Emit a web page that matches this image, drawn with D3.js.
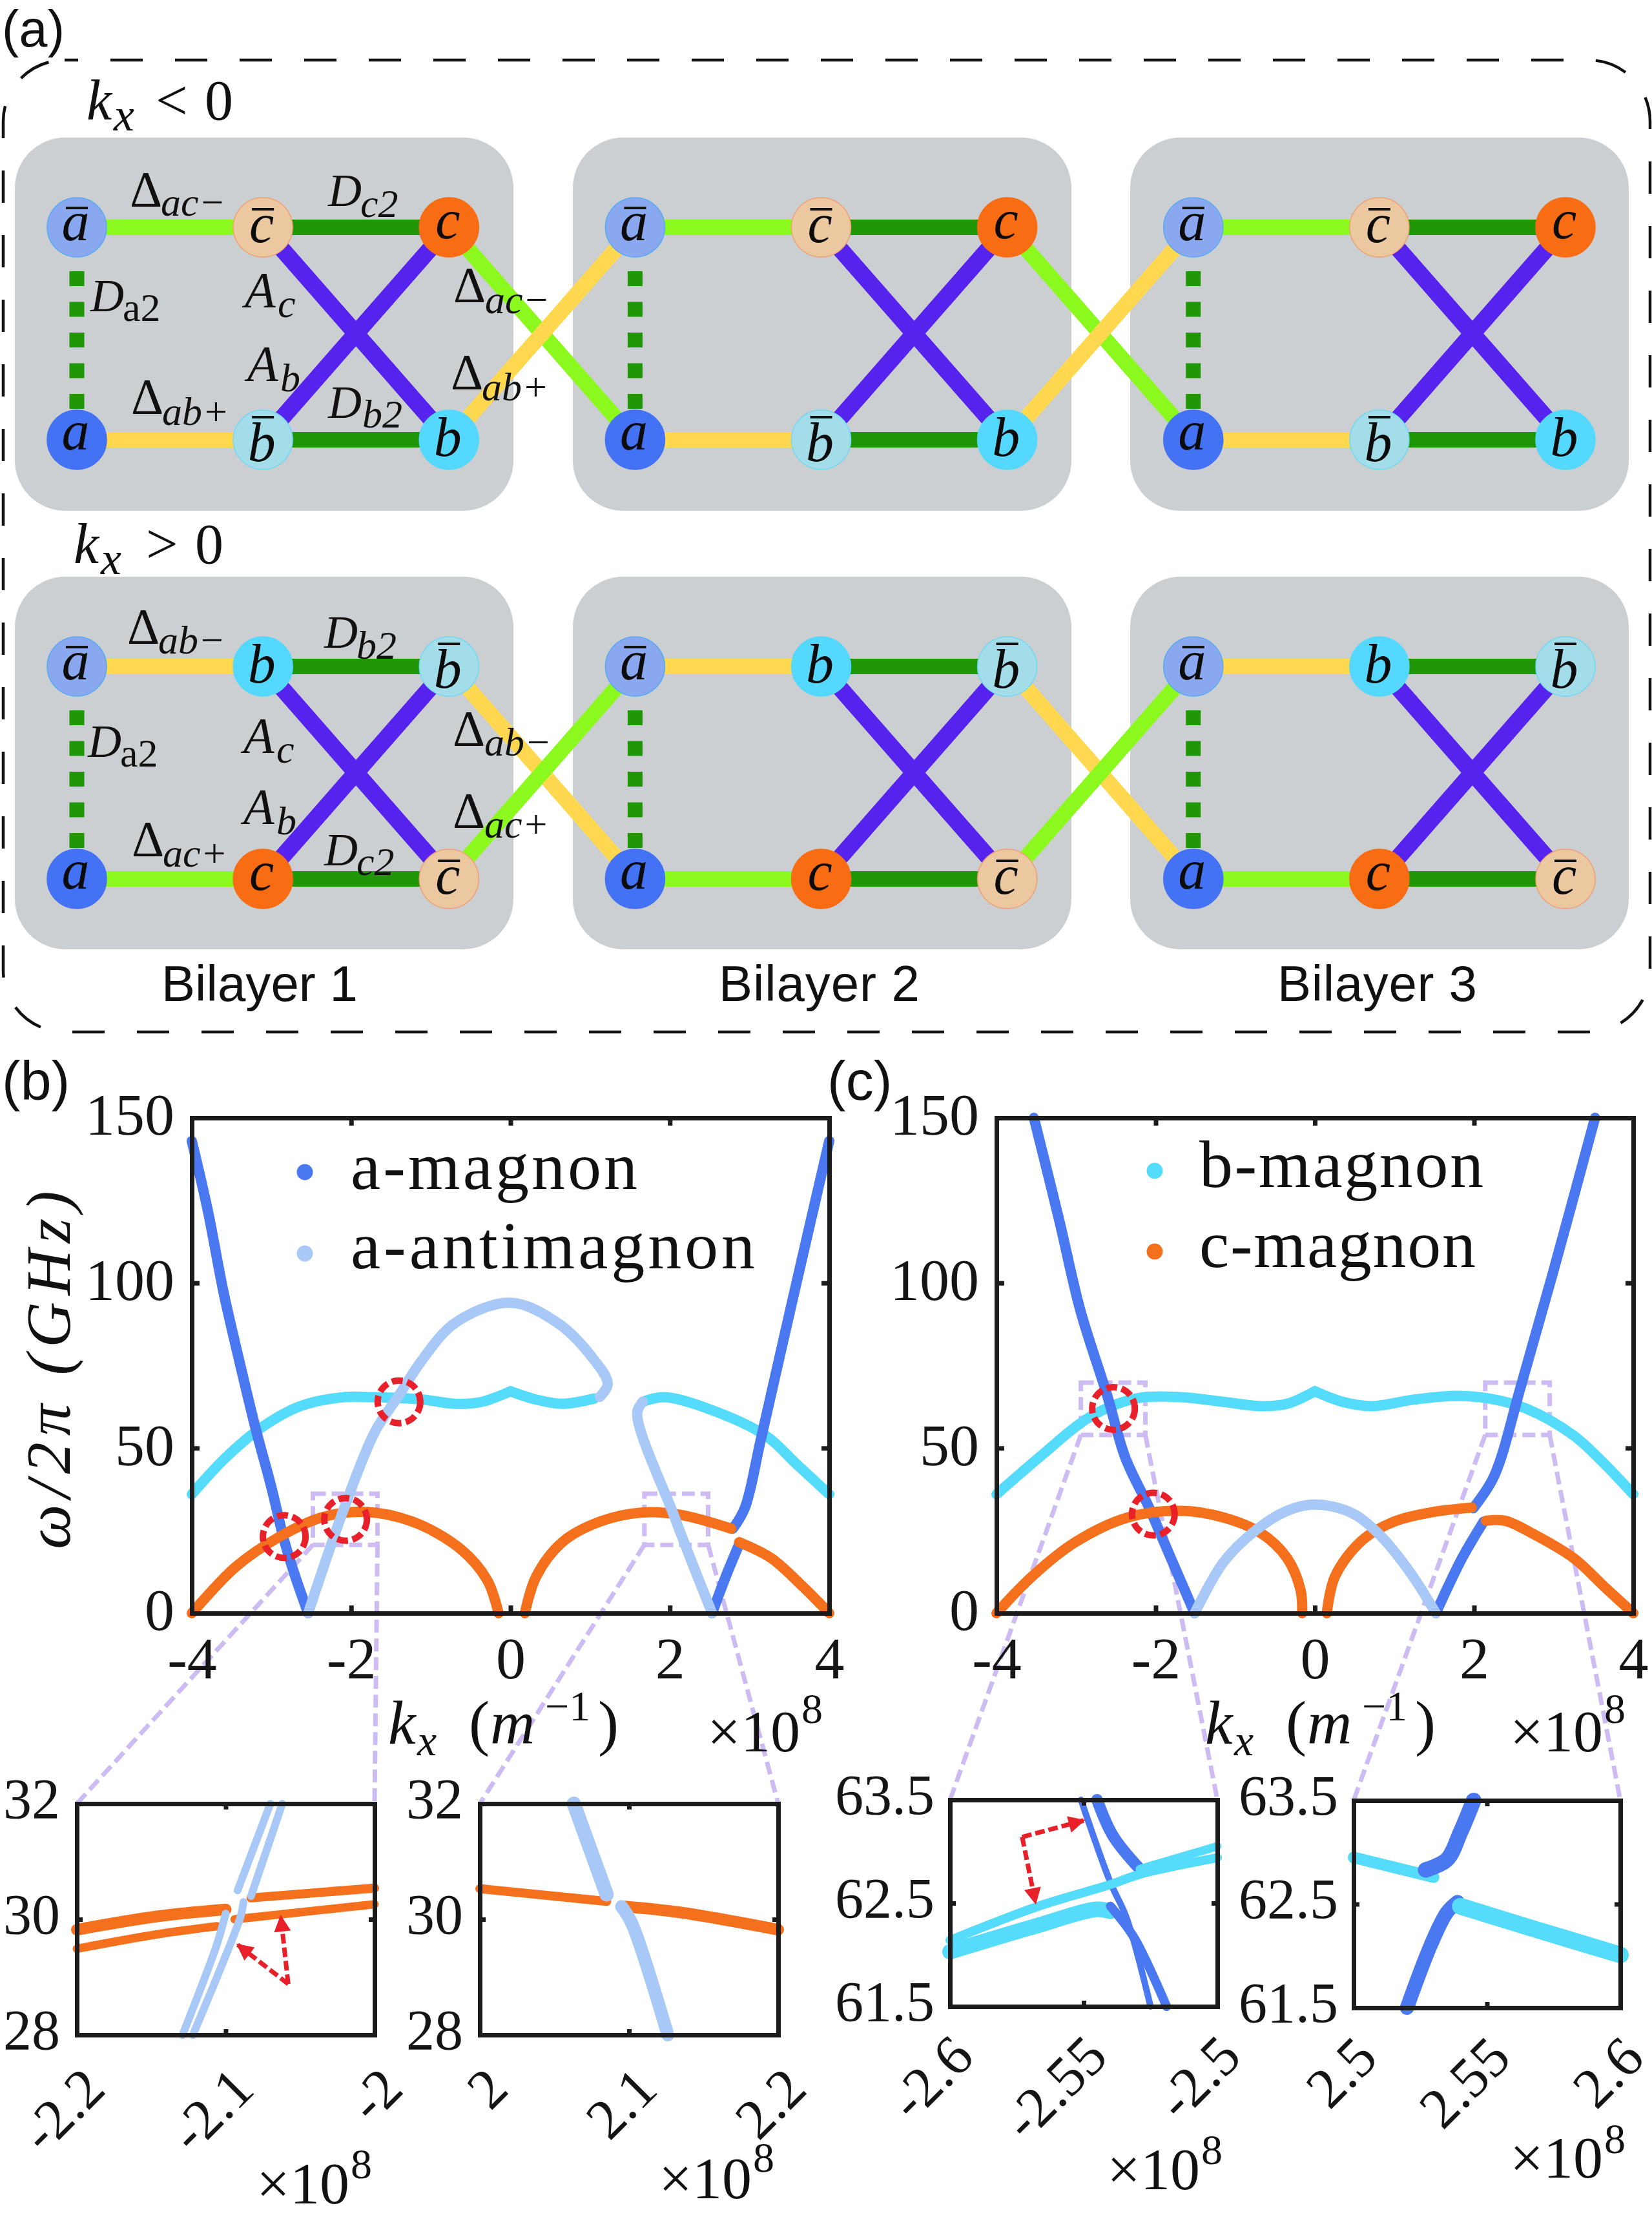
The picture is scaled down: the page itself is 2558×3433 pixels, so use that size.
<!DOCTYPE html>
<html><head><meta charset="utf-8">
<script src="https://cdn.jsdelivr.net/npm/d3@7"></script>
<style>html,body{margin:0;padding:0;background:#fff}svg{display:block}</style>
</head><body><svg id="fig" width="2558" height="3433"></svg>
<script>
// ---------- data: panel (b) [k (1e8 1/m), omega (GHz)] ----------
const bDarkLeft=[[-4,143],[-3.8,122],[-3.6,97],[-3.4,76],[-3.2,56],[-3,38],[-2.84,22],[-2.7,11],[-2.54,0]];
const bDarkRightLow=[[2.53,0],[2.7,11],[2.87,20.9]];
const bDarkRightUp=[[2.79,25.6],[2.94,31.8],[3.14,52.4],[3.54,94.9],[4,143]];
const bLightLoop=[[-2.54,0],[-2.07,33],[-1.7,55],[-1.4,66],[-1.1,77],[-0.69,88],[0,94],[0.585,88],[0.99,78.5],[1.22,69.5],[1.12,65.5]];
const bLightRight=[[1.66,64],[1.59,60.6],[2.06,29],[2.53,0]];
const bCyanLeft=[[-4,36],[-3.58,47],[-3.11,56.5],[-2.64,62.7],[-2.1,65.4],[-1.7,65.4],[-1.1,64.7],[-0.69,63.4],[-0.36,64],[0,67.2]];
const bCyanMid=[[0,67.2],[0.32,64.7],[0.65,63.4],[1.05,65]];
const bCyanRight=[[1.66,64],[1.93,65.4],[2.47,62],[3.2,53.8],[3.6,44.9],[4,36]];
const bOrangeLeft=[[-4,0],[-3.45,14],[-2.91,23],[-2.37,29],[-1.84,30.7],[-1.23,27.7],[-0.63,19.5],[-0.29,9.9],[-0.15,0]];
const bOrangeMid=[[0.18,0],[0.32,11],[0.65,21.5],[1.12,27.7],[1.66,30.5],[2.13,29.8],[2.77,25.6]];
const bOrangeRight=[[2.87,21.5],[3.27,16.7],[3.68,7.8],[4,0]];
// ---------- data: panel (c) ----------
const cDarkLeft=[[-3.53,150],[-3.21,118.8],[-2.95,92],[-2.61,66],[-2.38,47],[-2.08,31.8],[-1.81,16.7],[-1.51,0]];
const cDarkRightLow=[[1.52,0],[1.85,16.7],[2.12,27.7]];
const cDarkRightUp=[[1.99,31.8],[2.25,41.4],[2.59,68.9],[2.99,103],[3.52,150]];
const cLight=[[-1.51,0],[-1.15,15.4],[-0.75,25],[-0.35,31],[0,32.9],[0.45,30.5],[0.79,24.3],[1.19,12.6],[1.52,0]];
const cCyanLeft=[[-4,36],[-3.41,48.3],[-2.88,58.6],[-2.48,63.4],[-2.15,65.4],[-1.68,65.4],[-1.15,64],[-0.68,62.7],[-0.35,63.4],[0,67.2]];
const cCyanRight=[[0,67.2],[0.35,64],[0.72,62.7],[1.25,64.7],[1.79,65.8],[2.19,65],[2.65,62],[3.25,53.8],[3.65,44.9],[4,36]];
const cOrangeLeft=[[-4,0],[-3.55,11.2],[-3.01,21.5],[-2.35,29],[-1.68,31],[-1.15,29],[-0.68,24.3],[-0.35,16.7],[-0.18,7],[-0.16,0]];
const cOrangeMid=[[0.15,0],[0.25,11],[0.59,22],[0.99,27.7],[1.45,30.5],[1.97,32]];
const cOrangeRight=[[2.15,28],[2.39,28],[2.72,24.3],[3.25,16.7],[3.65,7.7],[4,0]];
// ---------- data: insets ----------
const i1OrangeUL=[[-2.2,29.82],[-2.146,30.05],[-2.1,30.17]];
const i1OrangeLL=[[-2.2,29.49],[-2.146,29.74],[-2.106,29.88]];
const i1OrangeUR=[[-2.083,30.37],[-2,30.54]];
const i1OrangeLR=[[-2.094,30],[-2,30.26]];
const i1LightA=[[-2.129,28],[-2.106,29.56],[-2.1,30.1]];
const i1LightB=[[-2.122,28],[-2.098,29.5],[-2.09,30.05],[-2.088,30.3]];
const i1LightC=[[-2.07,32],[-2.092,30.5]];
const i1LightD=[[-2.062,32],[-2.083,30.4]];
const i2OrangeL=[[2,30.53],[2.085,30.31]];
const i2OrangeR=[[2.097,30.22],[2.134,30.12],[2.2,29.82]];
const i2LightU=[[2.063,32],[2.085,30.43]];
const i2LightL=[[2.095,30.22],[2.102,29.92],[2.126,28]];
const i3CyanTop=[[-2.6,62.14],[-2.567,62.47],[-2.54,62.68],[-2.529,62.78],[-2.5,62.94]];
const i3CyanBranch=[[-2.529,62.83],[-2.5,63.05]];
const i3CyanLow=[[-2.6,62.03],[-2.569,62.27],[-2.545,62.44],[-2.54,62.42]];
const i3DarkThin=[[-2.551,63.5],[-2.54,62.7],[-2.534,62.36],[-2.525,61.5]];
const i3DarkUp=[[-2.545,63.5],[-2.539,63.15],[-2.529,62.83]];
const i3DarkLow=[[-2.54,62.47],[-2.531,62.16],[-2.519,61.5]];
const i4CyanUp=[[2.5,62.95],[2.519,62.83],[2.53,62.76]];
const i4DarkUp=[[2.527,62.83],[2.535,62.93],[2.54,63.19],[2.545,63.5]];
const i4DarkLow=[[2.52,61.5],[2.529,62.11],[2.535,62.42],[2.539,62.52]];
const i4CyanLow=[[2.54,62.48],[2.569,62.25],[2.6,62.01]];
// ---------- ticks, legend, annotations ----------
const mainKTicks=[-4,-2,0,2,4];
const mainWTicks=[0,50,100,150];
const bLegend=["a-magnon","a-antimagnon"];
const cLegend=["b-magnon","c-magnon"];
const bilayerNames=["Bilayer 1","Bilayer 2","Bilayer 3"];
const bRings=[[-2.84,23.2],[-2.07,28.4],[-1.4,64]];
const cRings=[[-2.53,62],[-2.03,30]];
const topNodes=["abar","cbar","c","a","bbar","b"];
const bottomNodes=["abar","b","bbar","a","c","cbar"];

const C={dark:"#4a78f0",light:"#a8c8f7",cyan:"#55dbfb",orange:"#f4701c",axis:"#1c1c1c",
  lime:"#8cf91e",green:"#1f9706",yellow:"#ffd84f",violet:"#5522ee",gray:"#cbcfd1",
  purple:"#cdbcf4",red:"#e8202a"};
const nodeFill={abar:"#8aa8f0",cbar:"#ecc8a0",c:"#f86c14",a:"#4472f5",bbar:"#a2dde9",b:"#55d8fd"};
const nodeEdge={abar:"#55aaf5",cbar:"#f0a070",c:"#f86c14",a:"#4472f5",bbar:"#70d8f5",b:"#55d8fd"};
const baseOff={abar:20,cbar:23,bbar:33,a:15,c:17,b:25};
const barOff={abar:30,cbar:28,bbar:35};
const SERIF="'Liberation Serif',serif", SANS="'Liberation Sans',sans-serif";
const svg=d3.select("#fig");
const defs=svg.append("defs");
defs.append("marker").attr("id","ah").attr("viewBox","0 0 10 10").attr("refX",9).attr("refY",5)
  .attr("markerUnits","userSpaceOnUse").attr("markerWidth",28).attr("markerHeight",26).attr("orient","auto")
  .append("path").attr("d","M0,0L10,5L0,10Z").attr("fill",C.red);

function T(g,x,y,s,o={}){
  const t=g.append("text").attr("x",x).attr("y",y).text(s)
    .attr("font-family",o.f||SERIF).attr("font-size",o.s||80).attr("fill",o.c||"#111");
  if(o.i)t.attr("font-style","italic");
  if(o.a)t.attr("text-anchor",o.a);
  if(o.w)t.attr("textLength",o.w).attr("lengthAdjust","spacing");
  return t;
}
// ================= panel (a) =================
const A=svg.append("g");
A.append("rect").attr("x",5).attr("y",93).attr("width",2550).attr("height",1505).attr("rx",95)
  .attr("fill","none").attr("stroke","#111").attr("stroke-width",4.5).attr("stroke-dasharray","50 50").attr("stroke-dashoffset",29);
T(A,3,72,"(a)",{f:SANS,s:79,w:97});
const colX=d3.scaleLinear().domain([0,8]).range([119,2424]);
const rowY=d3.scaleOrdinal().domain([0,1,2,3]).range([352,681,1032,1361]);
const boxX=d3.scaleOrdinal().domain([0,1,2]).range([23,887,1750]);
const boxW=772,boxRows=[[213,578],[893,577]];
boxRows.forEach(([y,h])=>{bilayerNames.forEach((_,i)=>{
  A.append("rect").attr("x",boxX(i)).attr("y",y).attr("width",boxW).attr("height",h).attr("rx",78).attr("fill",C.gray);
});});
function line(g,c1,r1,c2,r2,col,w,dash){
  const l=g.append("line").attr("x1",colX(c1)).attr("y1",rowY(r1)).attr("x2",colX(c2)).attr("y2",rowY(r2))
   .attr("stroke",col).attr("stroke-width",w);
  if(dash)l.attr("stroke-dasharray",dash);
}
function drawRow(top,names,hTop,hBot,crossFirst,crossSecond){
  bilayerNames.forEach((_,b)=>{
    const o=b*3;
    line(A,o,top,o+1,top,hTop,24);
    line(A,o,top+1,o+1,top+1,hBot,24);
    line(A,o+1,top,o+2,top,C.green,24);
    line(A,o+1,top+1,o+2,top+1,C.green,24);
    line(A,o+1,top,o+2,top+1,C.violet,26);
    line(A,o+2,top,o+1,top+1,C.violet,26);
    A.append("line").attr("x1",colX(o)).attr("x2",colX(o)).attr("y1",rowY(top)+68).attr("y2",rowY(top+1)-36)
      .attr("stroke",C.green).attr("stroke-width",23).attr("stroke-dasharray","23 24.5");
    if(b<2){
      line(A,o+2,top,o+3,top+1,crossFirst,24);
      line(A,o+2,top+1,o+3,top,crossSecond,24);
    }
  });
  bilayerNames.forEach((_,b)=>{
    const o=b*3;
    names.forEach((n,i)=>{
      const cx=colX(o+(i%3)),cy=rowY(top+(i>2?1:0));
      A.append("circle").attr("cx",cx).attr("cy",cy).attr("r",46).attr("fill",nodeFill[n]).attr("stroke",nodeEdge[n]).attr("stroke-width",1.5);
      const bar=n.endsWith("bar"),ch=n[0];
      T(A,cx-2,cy+baseOff[n],ch,{s:86,i:1,a:"middle",c:"#0c0c0c"});
      if(bar)A.append("line").attr("x1",cx-17).attr("x2",cx+17).attr("y1",cy-barOff[n]).attr("y2",cy-barOff[n]).attr("stroke","#111").attr("stroke-width",4);
    });
  });
}
drawRow(0,topNodes,C.lime,C.yellow,C.lime,C.yellow);
drawRow(2,bottomNodes,C.yellow,C.lime,C.yellow,C.lime);
function sym(x,y,big,sx,sy,sub,o={}){
  const isDelta=big==="\u0394";
  T(A,x,y,big,{s:big==="D"?72:78,i:!isDelta});
  T(A,sx,sy,sub,{s:62,i:o.u?0:1});
}
sym(201,319,"\u0394",249,334,"ac\u2212");
sym(508,319,"D",558,336,"c2");
sym(140,482,"D",190,497,"a2",{u:1});
sym(379,475,"A",430,491,"c");
sym(383,589,"A",434,606,"b");
sym(203,640,"\u0394",251,658,"ab+");
sym(508,647,"D",561,662,"b2");
sym(702,467,"\u0394",751,485,"ac\u2212");
sym(698,602,"\u0394",746,620,"ab+");
sym(197,996,"\u0394",245,1012,"ab\u2212");
sym(502,1003,"D",552,1020,"b2");
sym(136,1172,"D",186,1187,"a2",{u:1});
sym(377,1165,"A",428,1181,"c");
sym(377,1275,"A",428,1292,"b");
sym(204,1325,"\u0394",252,1342,"ac+");
sym(502,1340,"D",552,1355,"c2");
sym(701,1154,"\u0394",750,1170,"ab\u2212");
sym(701,1281,"\u0394",750,1297,"ac+");
T(A,134,185,"k",{s:88,i:1});T(A,176,202,"x",{s:72,i:1});T(A,241,185,"< 0",{s:88,w:120});
T(A,114,872,"k",{s:88,i:1});T(A,156,889,"x",{s:72,i:1});T(A,226,872,"> 0",{s:88,w:120});
[[250,304],[1113,311],[1978,309]].forEach((p,i)=>T(A,p[0],1550,bilayerNames[i],{f:SANS,s:78,w:p[1]}));

// ================= plots =================
function frame(g,box,xd,yd,xt,yt,opt){
  const x=d3.scaleLinear().domain(xd).range([box.l,box.r]);
  const y=d3.scaleLinear().domain(yd).range([box.b,box.t]);
  return {g,box,x,y,xt,yt,opt};
}
function axes(P){
  const {g,box,x,y,xt,yt,opt}=P;
  const tk=opt.tick;
  const mk=(gen,tr)=>g.append("g").attr("transform",tr).call(gen);
  const fmt=d=>String(d);
  const sel=[
   mk(d3.axisBottom(x).tickValues(xt).tickSizeInner(-tk).tickSizeOuter(0).tickFormat(fmt),`translate(0,${box.b})`),
   mk(d3.axisLeft(y).tickValues(yt).tickSizeInner(-tk).tickSizeOuter(0).tickFormat(fmt),`translate(${box.l},0)`),
   mk(d3.axisTop(x).tickValues(xt).tickSizeInner(-tk).tickSizeOuter(0).tickFormat(""),`translate(0,${box.t})`),
   mk(d3.axisRight(y).tickValues(yt).tickSizeInner(-tk).tickSizeOuter(0).tickFormat(""),`translate(${box.r},0)`)
  ];
  sel.forEach(s=>{
    s.attr("font-family",null).attr("font-size",null);
    s.select(".domain").attr("stroke",C.axis).attr("stroke-width",opt.sw).attr("stroke-linecap","square");
    s.selectAll(".tick line").attr("stroke",C.axis).attr("stroke-width",opt.sw);
  });
  sel[1].selectAll("text").attr("font-family",SERIF).attr("font-size",opt.fs).attr("fill","#151515")
    .attr("x",-opt.ylab).attr("dy",opt.ydy);
  sel[0].selectAll("text").attr("font-family",SERIF).attr("font-size",opt.fs).attr("fill","#151515");
  if(opt.rot){
    sel[0].selectAll("text").attr("y",0).attr("dy",0).attr("text-anchor","end")
      .attr("transform",`translate(${opt.rotx},${opt.rot}) rotate(-45)`);
  }else{
    sel[0].selectAll("text").attr("y",opt.xlab).attr("dy",0);
  }
}
function curve(P,data,col,w){
  const gen=d3.line().x(d=>P.x(d[0])).y(d=>P.y(d[1])).curve(d3.curveCatmullRom.alpha(0.5));
  P.g.append("path").attr("d",gen(data)).attr("fill","none").attr("stroke",col).attr("stroke-width",w)
    .attr("stroke-linecap","round").attr("stroke-linejoin","round");
}
function rings(P,list){
  list.forEach(d=>P.g.append("circle").attr("cx",P.x(d[0])).attr("cy",P.y(d[1])).attr("r",33)
    .attr("fill","none").attr("stroke",C.red).attr("stroke-width",10).attr("stroke-dasharray","17 7"));
}
function zoomBox(P,k0,k1,w0,w1,inset){
  const g=P.g,x0=P.x(k0),x1=P.x(k1),y0=P.y(w1),y1=P.y(w0);
  const st=s=>s.attr("fill","none").attr("stroke",C.purple).attr("stroke-width",7).attr("stroke-dasharray","20 9");
  st(g.append("rect").attr("x",x0).attr("y",y0).attr("width",x1-x0).attr("height",y1-y0));
  st(g.append("line").attr("x1",x0).attr("y1",y1).attr("x2",inset.box.l).attr("y2",inset.box.t));
  st(g.append("line").attr("x1",x1).attr("y1",y1).attr("x2",inset.box.r).attr("y2",inset.box.t));
}
function arrows(P,o,targets){
  targets.forEach(t=>P.g.append("line").attr("x1",P.x(o[0])).attr("y1",P.y(o[1])).attr("x2",P.x(t[0])).attr("y2",P.y(t[1]))
    .attr("stroke",C.red).attr("stroke-width",7).attr("stroke-dasharray","15 6").attr("marker-end","url(#ah)"));
}
function legend(g,names,cols,dotX,ys,textX,bases,widths){
  names.forEach((n,i)=>{
    g.append("circle").attr("cx",dotX).attr("cy",ys[i]).attr("r",12.5).attr("fill",cols[i]);
    T(g,textX,bases[i],n,{s:104,w:widths[i],c:"#111"});
  });
}
function xlabel(g,x){
  T(g,x,2700,"k",{s:96,i:1});T(g,x+45,2718,"x",{s:68,i:1});
  T(g,x+125,2700,"(",{s:96});T(g,x+158,2700,"m",{s:96,i:1});T(g,x+243,2664,"\u22121",{s:66});T(g,x+325,2700,")",{s:96});
}
const times=(g,x,y,sy)=>{T(g,x,y,"\u00d710",{s:92});T(g,x+146,sy,"8",{s:66});};
const mainOpt={tick:12,sw:7,fs:92,ylab:27,ydy:"0.28em",xlab:101};
const L=svg.append("g"),R=svg.append("g");
const pB=frame(L,{l:297,r:1284,t:1731,b:2498},[-4,4],[0,150],mainKTicks,mainWTicks,mainOpt);
const pC=frame(R,{l:1543,r:2529,t:1731,b:2498},[-4,4],[0,150],mainKTicks,mainWTicks,mainOpt);
const inOpt={tick:9,sw:7,fs:88,ylab:26,ydy:"0.24em",rot:88,rotx:47};
const inOpt2={tick:9,sw:7,fs:88,ylab:24,ydy:"0.24em",rot:82,rotx:40};
const i1=frame(L,{l:119,r:580,t:2793,b:3151},[-2.2,-2],[28,32],[-2.2,-2.1,-2],[28,30,32],inOpt);
const i2=frame(L,{l:743,r:1205,t:2793,b:3151},[2,2.2],[28,32],[2,2.1,2.2],[28,30,32],inOpt);
const i3=frame(R,{l:1471,r:1885,t:2787,b:3107},[-2.6,-2.5],[61.5,63.5],[-2.6,-2.55,-2.5],[61.5,62.5,63.5],inOpt2);
const i4=frame(R,{l:2096,r:2509,t:2788,b:3109},[2.5,2.6],[61.5,63.5],[2.5,2.55,2.6],[61.5,62.5,63.5],inOpt2);

T(L,3,1703,"(b)",{f:SANS,s:86});T(R,1281,1703,"(c)",{f:SANS,s:86});
zoomBox(pB,-2.48,-1.67,20.7,36.2,i1);
zoomBox(pB,1.68,2.48,20.7,36.2,i2);
zoomBox(pC,-2.94,-2.13,54,69.8,i3);
zoomBox(pC,2.14,2.95,54,69.8,i4);

const W=16;
[bCyanLeft,bCyanMid,bCyanRight].forEach(d=>curve(pB,d,C.cyan,W));
[bDarkLeft,bDarkRightLow,bDarkRightUp].forEach(d=>curve(pB,d,C.dark,W));
[bOrangeLeft,bOrangeMid,bOrangeRight].forEach(d=>curve(pB,d,C.orange,W));
[bLightLoop,bLightRight].forEach(d=>curve(pB,d,C.light,W));
[cCyanLeft,cCyanRight].forEach(d=>curve(pC,d,C.cyan,W));
[cDarkLeft,cDarkRightLow,cDarkRightUp].forEach(d=>curve(pC,d,C.dark,W));
[cOrangeLeft,cOrangeMid,cOrangeRight].forEach(d=>curve(pC,d,C.orange,W));
curve(pC,cLight,C.light,W);
axes(pB);axes(pC);
rings(pB,bRings);rings(pC,cRings);
legend(L,bLegend,[C.dark,C.light],472,[1815,1941],543,[1841,1964],[444,626]);
legend(R,cLegend,[C.cyan,C.orange],1788,[1813,1938],1857,[1838,1962],[440,428]);
T(L,108,2399,"\u03c9/2\u03c0 (GHz)",{s:98,i:1,w:555}).attr("transform","rotate(-90 108 2399)");
xlabel(L,601);xlabel(R,1866);
times(L,1095,2712,2668);times(R,2338,2712,2668);
// insets
curve(i1,i1OrangeUL,C.orange,18);curve(i1,i1OrangeLL,C.orange,13);curve(i1,i1OrangeUR,C.orange,14);curve(i1,i1OrangeLR,C.orange,13);
[i1LightA,i1LightB,i1LightC,i1LightD].forEach(d=>curve(i1,d,C.light,12));
curve(i2,i2OrangeL,C.orange,14);curve(i2,i2OrangeR,C.orange,18);
curve(i2,i2LightU,C.light,22);curve(i2,i2LightL,C.light,20);
curve(i3,i3CyanLow,C.cyan,24);curve(i3,i3DarkThin,C.dark,10);curve(i3,i3DarkUp,C.dark,18);curve(i3,i3DarkLow,C.dark,14);
curve(i3,i3CyanTop,C.cyan,14);curve(i3,i3CyanBranch,C.cyan,13);
curve(i4,i4CyanUp,C.cyan,18);curve(i4,i4DarkUp,C.dark,24);curve(i4,i4DarkLow,C.dark,22);curve(i4,i4CyanLow,C.cyan,26);
[i1,i2,i3,i4].forEach(axes);
arrows(i1,[-2.058,28.88],[[-2.092,29.56],[-2.063,30.05]]);
arrows(i3,[-2.573,63.14],[[-2.55,63.3],[-2.568,62.5]]);
times(L,397,3412,3373);times(L,1020,3404,3363);
times(R,1714,3390,3351);times(R,2338,3372,3334);
</script></body></html>
